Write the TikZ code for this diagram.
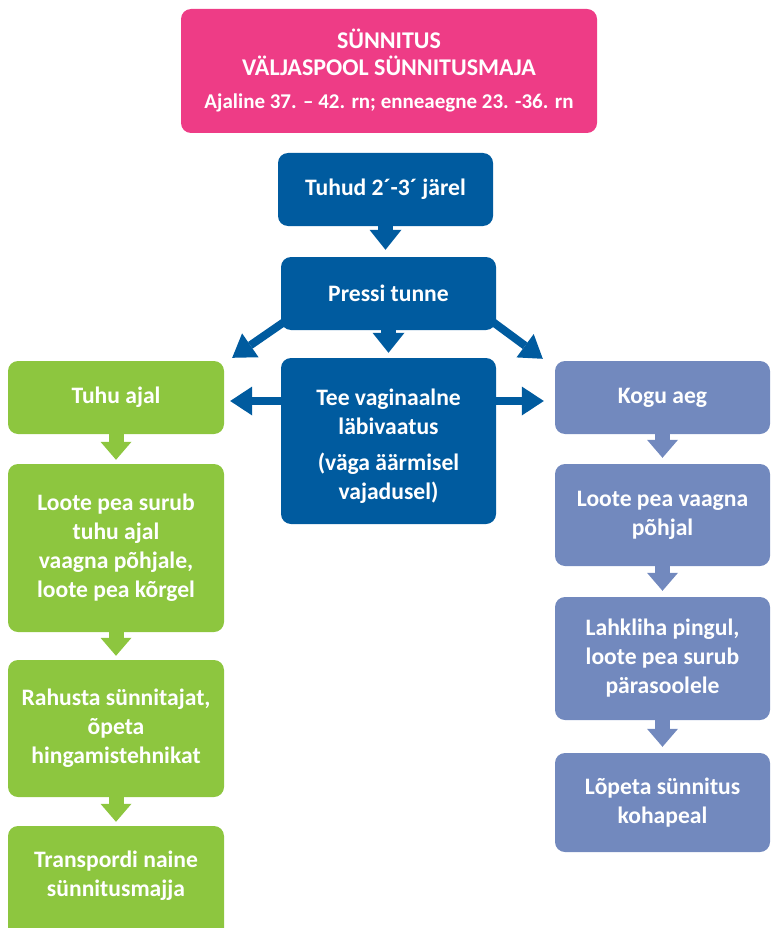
\documentclass[tikz,border=0pt]{standalone}
\usepackage{fontspec}
\setmainfont{Carlito}
\usetikzlibrary{arrows.meta}

\definecolor{rosa}{RGB}{238,60,134}
\definecolor{deepblue}{RGB}{0,91,159}
\definecolor{leaf}{RGB}{141,198,63}
\definecolor{slate}{RGB}{114,137,190}

\begin{document}
\begin{tikzpicture}[x=1pt,y=-1pt,
  box/.style={rounded corners=10pt, inner sep=0pt, text=white, align=center,
    font=\bfseries\fontsize{23.6}{29}\selectfont},
  titlebox/.style={box, fill=rosa, minimum width=416pt, minimum height=124pt},
  bluebox/.style={box, fill=deepblue, minimum width=215pt},
  greenbox/.style={box, fill=leaf, minimum width=216pt},
  slatebox/.style={box, fill=slate, minimum width=215pt},
  boxtext/.style={inner sep=0pt, text=white, align=center,
    font=\bfseries\fontsize{23.6}{29}\selectfont},
  downarrow/.style={line width=15pt, -{Triangle[width=31pt,length=18pt,line width=0pt]}},
  bluedown/.style={draw=deepblue, downarrow, -{Triangle[width=32pt,length=20pt,line width=0pt]}},
  greendown/.style={draw=leaf, downarrow},
  slatedown/.style={draw=slate, downarrow},
  bluepoint/.style={draw=deepblue, line width=8pt, -{Triangle[width=29pt,length=22pt,line width=0pt]}},
]
\useasboundingbox (0,0) rectangle (771,928);

% top banner
\node[titlebox, font=\bfseries\fontsize{24}{27}\selectfont] (title) at (389,71)
  {S\"UNNITUS\\V\"ALJASPOOL S\"UNNITUSMAJA\\[6pt]
  {\fontsize{21}{24}\selectfont Ajaline 37. – 42. rn; enneaegne 23. -36. rn}};

% central column
\node[bluebox, minimum height=73pt] (tuhud) at (385.5,189.5) {Tuhud 2´-3´ järel};
\node[bluebox, minimum height=73pt] (pressi) at (388.5,293.5) {Pressi tunne};
\node[bluebox, minimum height=166pt] (tee) at (388.5,441) {};
\node[boxtext] (teetext) at (388.5,446) {Tee vaginaalne\\läbivaatus\\[7pt](väga äärmisel\\vajadusel)};

% left column
\node[greenbox, minimum height=73pt] (g1) at (116,397.5) {Tuhu ajal};
\node[greenbox, minimum height=168pt] (g2) at (116,548) {Loote pea surub\\tuhu ajal\\vaagna põhjale,\\loote pea kõrgel};
\node[greenbox, minimum height=137pt] (g3) at (116,728.5) {Rahusta sünnitajat,\\õpeta\\hingamistehnikat};
\node[greenbox, minimum height=128pt] (g4) at (116,890) {};
\node[boxtext] (g4text) at (116,876) {Transpordi naine\\sünnitusmajja};

% right column
\node[slatebox, minimum height=73pt] (r1) at (662.5,397.5) {Kogu aeg};
\node[slatebox, minimum height=102pt] (r2) at (662.5,515) {Loote pea vaagna\\põhjal};
\node[slatebox, minimum height=123pt] (r3) at (662.5,658.5) {Lahkliha pingul,\\loote pea surub\\pärasoolele};
\node[slatebox, minimum height=99pt] (r4) at (662.5,802.5) {Lõpeta sünnitus\\kohapeal};

% central arrows
\draw[bluedown, shorten >=7pt] (tuhud.south) -- (tuhud.south |- pressi.north);
\draw[bluedown, shorten >=5pt] (pressi.south) -- (tee.north);
\draw[bluepoint] ([xshift=3pt,yshift=8pt]pressi.south west) -- ([xshift=8pt,yshift=3pt]g1.north east);
\draw[bluepoint] ([xshift=-3pt,yshift=8pt]pressi.south east) -- ([xshift=-12pt,yshift=2pt]r1.north west);
\coordinate (side) at (0,401);
\draw[bluepoint, shorten >=6pt] (tee.west |- side) -- (g1.east |- side);
\draw[bluepoint, shorten >=11pt] (tee.east |- side) -- (r1.west |- side);

% left column arrows
\draw[greendown, shorten >=4pt] (g1.south) -- (g2.north);
\draw[greendown, shorten >=4pt] (g2.south) -- (g3.north);
\draw[greendown, shorten >=4pt] (g3.south) -- (g4.north);

% right column arrows
\draw[slatedown, shorten >=6pt] (r1.south) -- (r2.north);
\draw[slatedown, shorten >=6pt] (r2.south) -- (r3.north);
\draw[slatedown, shorten >=6pt] (r3.south) -- (r4.north);
\end{tikzpicture}
\end{document}
